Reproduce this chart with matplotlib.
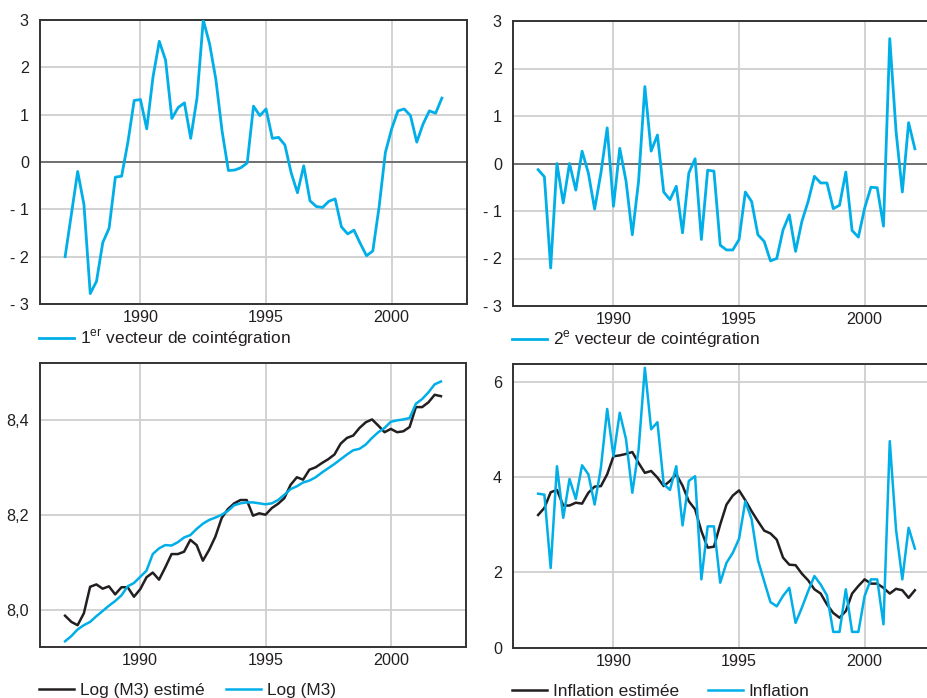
import numpy as np
import matplotlib
matplotlib.use("Agg")
import matplotlib.pyplot as plt
from matplotlib.ticker import FixedLocator, FixedFormatter

plt.rcParams['font.family'] = ['Liberation Sans', 'DejaVu Sans']
plt.rcParams['mathtext.fontset'] = 'custom'
plt.rcParams['mathtext.rm'] = 'Liberation Sans'

# trimestres 1987T1 - 2002T1
dates = 1987 + np.arange(61) / 4

vecteur1 = [-2.0, -1.1, -0.2, -0.9, -2.78, -2.52, -1.7, -1.4, -0.32, -0.3,
            0.42, 1.3, 1.32, 0.7, 1.8, 2.55, 2.15, 0.92, 1.15, 1.25,
            0.5, 1.35, 3.0, 2.5, 1.75, 0.65, -0.18, -0.17, -0.12, -0.02,
            1.18, 0.98, 1.12, 0.5, 0.52, 0.36, -0.23, -0.65, -0.08, -0.82,
            -0.94, -0.96, -0.83, -0.78, -1.37, -1.52, -1.44, -1.72, -1.98, -1.88,
            -0.95, 0.2, 0.7, 1.08, 1.12, 0.98, 0.42, 0.8, 1.08, 1.03, 1.35]

vecteur2 = [-0.13, -0.28, -2.2, 0.0, -0.83, 0.0, -0.56, 0.26, -0.2, -0.96,
            -0.2, 0.75, -0.9, 0.32, -0.37, -1.5, -0.37, 1.62, 0.26, 0.6,
            -0.6, -0.76, -0.48, -1.46, -0.2, 0.1, -1.6, -0.14, -0.16, -1.72,
            -1.82, -1.82, -1.6, -0.6, -0.8, -1.5, -1.64, -2.05, -2.0, -1.4,
            -1.08, -1.85, -1.22, -0.8, -0.27, -0.41, -0.41, -0.95, -0.88, -0.18,
            -1.41, -1.55, -0.94, -0.5, -0.51, -1.32, 2.63, 0.68, -0.6, 0.86, 0.31]

log_m3 = [7.933, 7.944, 7.958, 7.967, 7.974, 7.986, 7.997, 8.008, 8.018, 8.030,
          8.049, 8.056, 8.069, 8.082, 8.117, 8.129, 8.136, 8.135, 8.142, 8.152,
          8.157, 8.170, 8.181, 8.189, 8.194, 8.200, 8.208, 8.220, 8.224, 8.226,
          8.226, 8.224, 8.222, 8.224, 8.231, 8.242, 8.254, 8.260, 8.268, 8.272,
          8.279, 8.289, 8.298, 8.307, 8.317, 8.327, 8.336, 8.339, 8.348, 8.362,
          8.374, 8.383, 8.396, 8.399, 8.401, 8.404, 8.434, 8.444, 8.458, 8.475, 8.481]

log_m3_est = [7.987, 7.974, 7.967, 7.992, 8.048, 8.053, 8.044, 8.049, 8.032, 8.047,
              8.047, 8.027, 8.043, 8.068, 8.078, 8.063, 8.089, 8.117, 8.117, 8.122,
              8.147, 8.136, 8.103, 8.126, 8.154, 8.193, 8.212, 8.224, 8.231, 8.231,
              8.198, 8.203, 8.200, 8.214, 8.223, 8.235, 8.263, 8.279, 8.274, 8.295,
              8.300, 8.309, 8.317, 8.327, 8.350, 8.362, 8.367, 8.383, 8.395, 8.401,
              8.388, 8.374, 8.381, 8.374, 8.376, 8.385, 8.427, 8.427, 8.437, 8.453, 8.450]

inflation = [3.65, 3.63, 2.08, 4.23, 3.14, 3.96, 3.54, 4.25, 4.06, 3.42,
             4.2, 5.44, 4.44, 5.36, 4.80, 3.67, 4.58, 6.31, 5.01, 5.16,
             3.85, 3.73, 4.23, 2.98, 3.92, 4.02, 1.84, 2.96, 2.96, 1.77,
             2.19, 2.40, 2.70, 3.49, 3.11, 2.25, 1.80, 1.36, 1.27, 1.49,
             1.66, 0.92, 1.24, 1.59, 1.91, 1.73, 1.50, 0.73, 0.73, 1.63,
             0.73, 0.73, 1.49, 1.84, 1.84, 0.89, 4.76, 2.89, 1.84, 2.93, 2.49]

inflation_est = [3.20, 3.35, 3.68, 3.73, 3.40, 3.40, 3.46, 3.44, 3.67, 3.80,
                 3.81, 4.06, 4.44, 4.46, 4.49, 4.53, 4.30, 4.09, 4.13, 3.99,
                 3.81, 3.92, 4.06, 3.82, 3.49, 3.32, 2.86, 2.51, 2.53, 3.00,
                 3.42, 3.61, 3.72, 3.51, 3.28, 3.07, 2.87, 2.81, 2.68, 2.30,
                 2.15, 2.14, 1.96, 1.82, 1.63, 1.54, 1.31, 1.13, 1.03, 1.17,
                 1.54, 1.70, 1.84, 1.75, 1.75, 1.66, 1.54, 1.64, 1.61, 1.45, 1.61]

bleu = '#00aee8'
noir = '#231f20'
W, H = 928, 698

fig = plt.figure(figsize=(W / 100, H / 100), dpi=100)


def axe(x0, y0, x1, y1):
    return fig.add_axes([x0 / W, 1 - y1 / H, (x1 - x0) / W, (y1 - y0) / H])


def style(ax, yticks, ylabels, ylim):
    ax.set_xlim(1986, 2003)
    ax.set_ylim(*ylim)
    ax.xaxis.set_major_locator(FixedLocator([1990, 1995, 2000]))
    ax.yaxis.set_major_locator(FixedLocator(yticks))
    ax.yaxis.set_major_formatter(FixedFormatter(ylabels))
    ax.grid(True, color='#cfcfcf', linewidth=1.3)
    ax.set_axisbelow(True)
    ax.tick_params(length=0, labelsize=11.6, colors='#231f20', pad=4)
    ax.tick_params(axis='y', pad=8)
    for s in ax.spines.values():
        s.set_color('#333333')
        s.set_linewidth(1.4)


def legende(ax, dy, ncol=1, espace=1.3):
    ax.legend(loc='upper left', bbox_to_anchor=(-0.002, dy), frameon=False,
              fontsize=12.4, ncol=ncol, handlelength=2.0, handletextpad=0.35,
              columnspacing=espace, borderaxespad=0, borderpad=0,
              labelcolor='#231f20')


lim3 = [-3, -2, -1, 0, 1, 2, 3]
lab3 = ['- 3', '- 2', '- 1', '0', '1', '2', '3']

# 1er vecteur
ax1 = axe(40, 20, 467, 304)
style(ax1, lim3, lab3, (-3, 3))
ax1.axhline(0, color='#555555', linewidth=1.1, zorder=2)
ax1.plot(dates, vecteur1, color=bleu, linewidth=2.0, zorder=3,
         label='1$^{\\rm er}$ vecteur de cointégration')
legende(ax1, -0.085)

# 2e vecteur
ax2 = axe(513, 21, 940, 306)
style(ax2, lim3, lab3, (-3, 3))
ax2.axhline(0, color='#555555', linewidth=1.1, zorder=2)
ax2.plot(dates, vecteur2, color=bleu, linewidth=2.0, zorder=3,
         label='2$^{\\rm e}$ vecteur de cointégration')
legende(ax2, -0.08)

# Log (M3)
ax3 = axe(40, 363, 466, 647)
style(ax3, [8.0, 8.2, 8.4], ['8,0', '8,2', '8,4'], (7.921, 8.52))
ax3.plot(dates, log_m3_est, color=noir, linewidth=1.8, zorder=3, label='Log (M3) estimé')
ax3.plot(dates, log_m3, color=bleu, linewidth=1.8, zorder=3, label='Log (M3)')
legende(ax3, -0.125, ncol=2, espace=1.27)

# Inflation
ax4 = axe(513, 364, 940, 648)
style(ax4, [0.39, 2, 4, 6], ['0', '2', '4', '6'], (0.39, 6.39))
ax4.plot(dates, inflation_est, color=noir, linewidth=1.8, zorder=3, label='Inflation estimée')
ax4.plot(dates, inflation, color=bleu, linewidth=1.8, zorder=3, label='Inflation')
legende(ax4, -0.125, ncol=2, espace=1.72)

fig.savefig('out.png', dpi=100)
